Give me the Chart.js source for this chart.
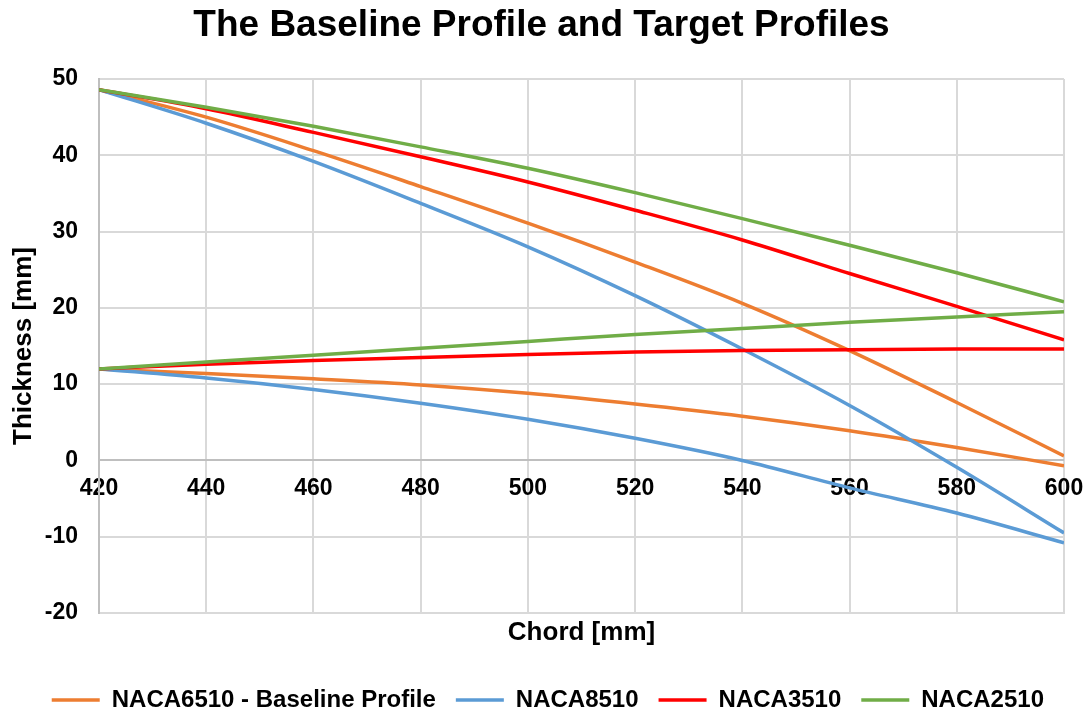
<!DOCTYPE html>
<html>
<head>
<meta charset="utf-8">
<title>The Baseline Profile and Target Profiles</title>
<script src="https://cdn.jsdelivr.net/npm/chart.js@4/dist/chart.umd.min.js"></script>
<style>
  html, body { margin: 0; padding: 0; background: #ffffff; }
  #wrap { width: 1091px; height: 713px; }
</style>
</head>
<body>
<div id="wrap"><canvas id="chart" width="1091" height="713"></canvas></div>
<script>
// Chord stations [mm]
const chord = [420, 440, 460, 480, 500, 520, 540, 560, 580, 600];

// Upper / lower surface thickness [mm] for each profile
const naca6510Upper = [48.6, 45.0, 40.6, 35.9, 31.1, 26.0, 20.6, 14.4, 7.6, 0.6];
const naca6510Lower = [12.0, 11.4, 10.7, 9.9, 8.8, 7.4, 5.8, 3.9, 1.7, -0.7];
const naca8510Upper = [48.6, 44.2, 39.2, 33.7, 28.0, 21.6, 14.6, 7.2, -0.9, -9.5];
const naca8510Lower = [12.0, 10.8, 9.3, 7.5, 5.4, 2.9, 0.0, -3.6, -6.9, -10.8];
const naca3510Upper = [48.6, 46.1, 43.0, 39.8, 36.5, 32.8, 28.9, 24.5, 20.2, 15.8];
const naca3510Lower = [12.0, 12.6, 13.1, 13.5, 13.9, 14.2, 14.4, 14.5, 14.6, 14.6];
const naca2510Upper = [48.6, 46.3, 43.8, 41.1, 38.3, 35.1, 31.7, 28.2, 24.6, 20.8];
const naca2510Lower = [12.0, 12.9, 13.8, 14.7, 15.6, 16.5, 17.3, 18.1, 18.8, 19.5];

const profileNames = ['NACA6510 - Baseline Profile', 'NACA8510', 'NACA3510', 'NACA2510'];
const profileColors = ['#ED7D31', '#5B9BD5', '#FF0000', '#70AD47'];
const profileSurfaces = [
  [naca6510Upper, naca6510Lower],
  [naca8510Upper, naca8510Lower],
  [naca3510Upper, naca3510Lower],
  [naca2510Upper, naca2510Lower]
];

const FONT = "'Liberation Sans', Arial, sans-serif";

const datasets = [];
profileSurfaces.forEach((surfaces, p) => {
  surfaces.forEach((values, s) => {
    datasets.push({
      label: profileNames[p],
      data: chord.map((x, i) => ({ x: x, y: values[i] })),
      borderColor: profileColors[p],
      backgroundColor: profileColors[p],
      borderWidth: 3.5,
      pointRadius: 0,
      pointHoverRadius: 0,
      showLine: true,
      cubicInterpolationMode: 'monotone',
      order: 4 - p,          // later profiles drawn on top
      legendEntry: s === 0
    });
  });
});

new Chart(document.getElementById('chart'), {
  type: 'scatter',
  data: { datasets: datasets },
  options: {
    responsive: false,
    animation: false,
    layout: { padding: { left: 19, right: 27, top: 0, bottom: 0 } },
    plugins: {
      title: {
        display: true,
        text: 'The Baseline Profile and Target Profiles',
        color: '#000000',
        font: { family: FONT, size: 37, weight: 'bold' },
        padding: { top: 4, bottom: 30.6 }
      },
      legend: {
        display: true,
        position: 'bottom',
        align: 'end',
        maxHeight: 45,
        labels: {
          color: '#000000',
          font: { family: FONT, size: 24, weight: 'bold' },
          usePointStyle: true,
          pointStyle: 'line',
          pointStyleWidth: 48,
          padding: 20,
          filter: (item, data) => data.datasets[item.datasetIndex].legendEntry,
          sort: (a, b) => a.datasetIndex - b.datasetIndex
        }
      },
      tooltip: { enabled: false }
    },
    scales: {
      x: {
        type: 'linear',
        position: 'bottom',
        min: 420,
        max: 600,
        ticks: { stepSize: 20, display: false },
        grid: { color: '#d9d9d9', lineWidth: 2, drawTicks: false },
        border: { display: true, color: '#d9d9d9', width: 2 },
        title: {
          display: true,
          text: 'Chord [mm]',
          color: '#000000',
          font: { family: FONT, size: 26, weight: 'bold' },
          padding: { top: 4.4, bottom: 19.4 }
        }
      },
      // tick labels carried along the zero line
      xZero: {
        type: 'linear',
        axis: 'x',
        position: { y: 0 },
        min: 420,
        max: 600,
        ticks: {
          stepSize: 20,
          color: '#000000',
          padding: 14,
          font: { family: FONT, size: 23, weight: 'bold' }
        },
        grid: { display: false, drawTicks: false },
        border: { display: false },
        afterFit: (scale) => {
          scale.height = 0;
          scale.paddingLeft = 0;
          scale.paddingRight = 0;
        }
      },
      y: {
        type: 'linear',
        min: -20,
        max: 50,
        ticks: {
          stepSize: 10,
          color: '#000000',
          padding: 21,
          font: { family: FONT, size: 23, weight: 'bold' }
        },
        grid: {
          color: (ctx) => (ctx.tick && ctx.tick.value === 0 ? '#bfbfbf' : '#d9d9d9'),
          lineWidth: 2,
          drawTicks: false
        },
        border: { display: true, color: '#bfbfbf', width: 2 },
        title: {
          display: true,
          text: 'Thickness [mm]',
          color: '#000000',
          font: { family: FONT, size: 26, weight: 'bold' },
          padding: { top: -11, bottom: 0 }
        },
        afterFit: (scale) => { scale.width = 80; }
      }
    }
  }
});
</script>
</body>
</html>
